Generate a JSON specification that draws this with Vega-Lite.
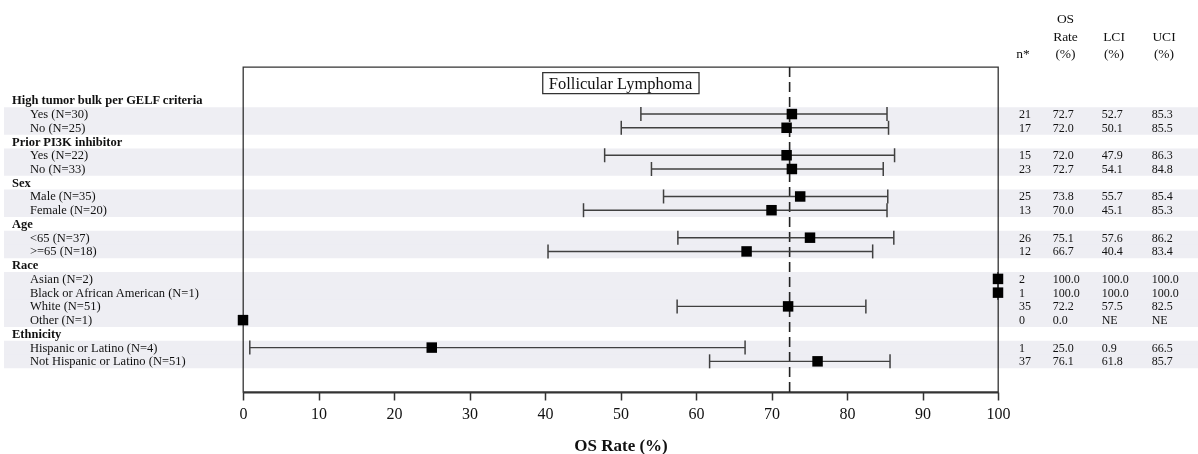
{
  "$schema": "https://vega.github.io/schema/vega-lite/v6.json",
  "background": "white",
  "padding": {"left": 4, "top": 7, "right": 0, "bottom": 0},
  "config": {
    "font": "Liberation Serif",
    "view": {"stroke": null},
    "text": {"color": "#111111", "font": "Liberation Serif"}
  },
  "datasets": {
    "rows": [
      {"label": "Follicular Lymphoma", "level": "title"},
      {"label": "High tumor bulk per GELF criteria", "level": "group"},
      {"label": "Yes (N=30)", "level": "item", "n": 21, "rate": 72.7, "lci": 52.7, "uci": 85.3},
      {"label": "No (N=25)", "level": "item", "n": 17, "rate": 72.0, "lci": 50.1, "uci": 85.5},
      {"label": "Prior PI3K inhibitor", "level": "group"},
      {"label": "Yes (N=22)", "level": "item", "n": 15, "rate": 72.0, "lci": 47.9, "uci": 86.3},
      {"label": "No (N=33)", "level": "item", "n": 23, "rate": 72.7, "lci": 54.1, "uci": 84.8},
      {"label": "Sex", "level": "group"},
      {"label": "Male (N=35)", "level": "item", "n": 25, "rate": 73.8, "lci": 55.7, "uci": 85.4},
      {"label": "Female (N=20)", "level": "item", "n": 13, "rate": 70.0, "lci": 45.1, "uci": 85.3},
      {"label": "Age", "level": "group"},
      {"label": "<65 (N=37)", "level": "item", "n": 26, "rate": 75.1, "lci": 57.6, "uci": 86.2},
      {"label": ">=65 (N=18)", "level": "item", "n": 12, "rate": 66.7, "lci": 40.4, "uci": 83.4},
      {"label": "Race", "level": "group"},
      {"label": "Asian (N=2)", "level": "item", "n": 2, "rate": 100.0, "lci": 100.0, "uci": 100.0},
      {"label": "Black or African American (N=1)", "level": "item", "n": 1, "rate": 100.0, "lci": 100.0, "uci": 100.0},
      {"label": "White (N=51)", "level": "item", "n": 35, "rate": 72.2, "lci": 57.5, "uci": 82.5},
      {"label": "Other (N=1)", "level": "item", "n": 0, "rate": 0.0, "lci": null, "uci": null},
      {"label": "Ethnicity", "level": "group"},
      {"label": "Hispanic or Latino (N=4)", "level": "item", "n": 1, "rate": 25.0, "lci": 0.9, "uci": 66.5},
      {"label": "Not Hispanic or Latino (N=51)", "level": "item", "n": 37, "rate": 76.1, "lci": 61.8, "uci": 85.7}
    ],
    "headers": [
      {"col": "n", "head": "n*"},
      {"col": "rate", "head": ["OS", "Rate", "(%)"]},
      {"col": "lci", "head": ["\u00a0", "LCI", "(%)"]},
      {"col": "uci", "head": ["\u00a0", "UCI", "(%)"]}
    ]
  },
  "vconcat": [
    {
      "hconcat": [
        {"width": 994, "height": 58, "data": {"values": []}, "mark": "text"},
        {
          "width": 50, "height": 58, "data": {"name": "headers"},
          "transform": [{"filter": "datum.col == 'n'"}],
          "mark": {"type": "text", "font": "Liberation Serif", "baseline": "alphabetic", "align": "center", "dy": 22, "fontSize": 13.5},
          "encoding": {"text": {"field": "head"}}
        },
        {
          "width": 35, "height": 58, "data": {"name": "headers"},
          "transform": [{"filter": "datum.col == 'rate'"}],
          "mark": {"type": "text", "font": "Liberation Serif", "lineHeight": 17.5, "baseline": "alphabetic", "align": "center", "dy": -13, "fontSize": 13.5},
          "encoding": {"text": {"field": "head"}}
        },
        {
          "width": 62, "height": 58, "data": {"name": "headers"},
          "transform": [{"filter": "datum.col == 'lci'"}],
          "mark": {"type": "text", "font": "Liberation Serif", "lineHeight": 17.5, "baseline": "alphabetic", "align": "center", "dy": -13, "fontSize": 13.5},
          "encoding": {"text": {"field": "head"}}
        },
        {
          "width": 53, "height": 58, "data": {"name": "headers"},
          "transform": [{"filter": "datum.col == 'uci'"}],
          "mark": {"type": "text", "font": "Liberation Serif", "lineHeight": 17.5, "baseline": "alphabetic", "align": "center", "dy": -13, "dx": -7.5, "fontSize": 13.5},
          "encoding": {"text": {"field": "head"}}
        }
      ],
      "spacing": 0,
      "bounds": "flush"
    },
    {
      "hconcat": [
        {
          "width": 239, "height": 325, "data": {"name": "rows"},
          "layer": [
            {
              "transform": [{"filter": "datum.level == 'item'"}],
              "mark": {"type": "rect", "color": "#eeeef3", "blend": "multiply"},
              "encoding": {"y": {"field": "label", "type": "nominal", "axis": null, "scale": {"type": "band", "paddingInner": 0, "paddingOuter": 0, "range": [12.7, 301.2], "domain": ["Follicular Lymphoma", "High tumor bulk per GELF criteria", "Yes (N=30)", "No (N=25)", "Prior PI3K inhibitor", "Yes (N=22)", "No (N=33)", "Sex", "Male (N=35)", "Female (N=20)", "Age", "<65 (N=37)", ">=65 (N=18)", "Race", "Asian (N=2)", "Black or African American (N=1)", "White (N=51)", "Other (N=1)", "Ethnicity", "Hispanic or Latino (N=4)", "Not Hispanic or Latino (N=51)"]}}}
            },
            {
              "transform": [{"filter": "datum.level == 'group'"}],
              "mark": {"type": "text", "font": "Liberation Serif", "align": "left", "baseline": "middle", "fontSize": 12.5, "fontWeight": "bold"},
              "encoding": {
                "y": {"field": "label", "type": "nominal", "axis": null},
                "x": {"field": "level", "type": "nominal", "axis": null, "scale": {"type": "point", "domain": ["group", "item"], "range": [8, 26], "padding": 0}},
                "text": {"field": "label"}
              }
            },
            {
              "transform": [{"filter": "datum.level == 'item'"}],
              "mark": {"type": "text", "font": "Liberation Serif", "align": "left", "baseline": "middle", "fontSize": 12.5},
              "encoding": {
                "y": {"field": "label", "type": "nominal", "axis": null},
                "x": {"field": "level", "type": "nominal", "axis": null},
                "text": {"field": "label"}
              }
            }
          ]
        },
        {
          "width": 755, "height": 325, "data": {"name": "rows"},
          "view": {"stroke": "#333333", "strokeWidth": 1.3},
          "layer": [
            {
              "transform": [{"filter": "datum.level == 'item'"}],
              "mark": {"type": "rect", "color": "#eeeef3", "blend": "multiply"},
              "encoding": {"y": {"field": "label", "type": "nominal", "axis": null, "scale": {"type": "band", "paddingInner": 0, "paddingOuter": 0, "range": [12.7, 301.2], "domain": ["Follicular Lymphoma", "High tumor bulk per GELF criteria", "Yes (N=30)", "No (N=25)", "Prior PI3K inhibitor", "Yes (N=22)", "No (N=33)", "Sex", "Male (N=35)", "Female (N=20)", "Age", "<65 (N=37)", ">=65 (N=18)", "Race", "Asian (N=2)", "Black or African American (N=1)", "White (N=51)", "Other (N=1)", "Ethnicity", "Hispanic or Latino (N=4)", "Not Hispanic or Latino (N=51)"]}}}
            },
            {
              "data": {"values": [{"overall": 72.4}]},
              "mark": {"type": "rule", "color": "#222222", "strokeWidth": 1.6, "strokeDash": [10, 5]},
              "encoding": {"x": {"field": "overall", "type": "quantitative", "title": "OS Rate (%)", "scale": {"domain": [0, 100], "nice": false}}}
            },
            {
              "transform": [{"filter": "datum.lci != null"}],
              "mark": {"type": "rule", "color": "#404040", "strokeWidth": 1.4},
              "encoding": {
                "x": {"field": "lci", "type": "quantitative", "title": "OS Rate (%)"},
                "x2": {"field": "uci"},
                "y": {"field": "label", "type": "nominal", "axis": null}
              }
            },
            {
              "transform": [{"filter": "datum.lci != null"}],
              "mark": {"type": "tick", "orient": "vertical", "color": "#404040", "size": 14, "thickness": 1.5, "opacity": 1},
              "encoding": {
                "x": {"field": "lci", "type": "quantitative", "title": "OS Rate (%)"},
                "y": {"field": "label", "type": "nominal", "axis": null}
              }
            },
            {
              "transform": [{"filter": "datum.uci != null"}],
              "mark": {"type": "tick", "orient": "vertical", "color": "#404040", "size": 14, "thickness": 1.5, "opacity": 1},
              "encoding": {
                "x": {"field": "uci", "type": "quantitative", "title": "OS Rate (%)"},
                "y": {"field": "label", "type": "nominal", "axis": null}
              }
            },
            {
              "transform": [{"filter": "datum.level == 'item'"}],
              "mark": {"type": "square", "size": 110, "color": "#000000", "opacity": 1},
              "encoding": {
                "x": {
                  "field": "rate", "type": "quantitative", "title": "OS Rate (%)",
                  "scale": {"domain": [0, 100], "nice": false},
                  "axis": {
                    "values": [0, 10, 20, 30, 40, 50, 60, 70, 80, 90, 100],
                    "grid": false, "labelFlush": false,
                    "domainColor": "#333333", "domainWidth": 2,
                    "tickColor": "#333333", "tickWidth": 1.5, "tickSize": 8,
                    "labelFont": "Liberation Serif", "labelFontSize": 16, "labelColor": "#111111", "labelPadding": 5,
                    "titleFont": "Liberation Serif", "titleFontSize": 17, "titleFontWeight": "bold", "titleColor": "#111111", "titlePadding": 16
                  }
                },
                "y": {"field": "label", "type": "nominal", "axis": null}
              }
            },
            {
              "transform": [{"filter": "datum.level == 'title'"}],
              "mark": {"type": "rect", "height": 21, "yOffset": -3.5, "fill": "white", "stroke": "#333333", "strokeWidth": 1.3},
              "encoding": {
                "x": {"datum": 39.7, "type": "quantitative"},
                "x2": {"datum": 60.4},
                "y": {"field": "label", "type": "nominal", "axis": null}
              }
            },
            {
              "transform": [{"filter": "datum.level == 'title'"}],
              "mark": {"type": "text", "font": "Liberation Serif", "align": "center", "baseline": "middle", "fontSize": 16.5, "yOffset": -3},
              "encoding": {
                "x": {"datum": 50, "type": "quantitative"},
                "y": {"field": "label", "type": "nominal", "axis": null},
                "text": {"field": "label"}
              }
            }
          ]
        },
        {
          "width": 50, "height": 325, "data": {"name": "rows"},
          "transform": [{"filter": "datum.level == 'item'"}],
          "layer": [
            {"mark": {"type": "rect", "color": "#eeeef3", "blend": "multiply"}, "encoding": {"y": {"field": "label", "type": "nominal", "axis": null, "scale": {"type": "band", "paddingInner": 0, "paddingOuter": 0, "range": [12.7, 301.2], "domain": ["Follicular Lymphoma", "High tumor bulk per GELF criteria", "Yes (N=30)", "No (N=25)", "Prior PI3K inhibitor", "Yes (N=22)", "No (N=33)", "Sex", "Male (N=35)", "Female (N=20)", "Age", "<65 (N=37)", ">=65 (N=18)", "Race", "Asian (N=2)", "Black or African American (N=1)", "White (N=51)", "Other (N=1)", "Ethnicity", "Hispanic or Latino (N=4)", "Not Hispanic or Latino (N=51)"]}}}},
            {"mark": {"type": "text", "font": "Liberation Serif", "align": "left", "baseline": "middle", "fontSize": 12, "dx": -4}, "encoding": {"y": {"field": "label", "type": "nominal", "axis": null}, "text": {"field": "n", "type": "quantitative", "format": "d"}}}
          ]
        },
        {
          "width": 35, "height": 325, "data": {"name": "rows"},
          "transform": [{"filter": "datum.level == 'item'"}],
          "layer": [
            {"mark": {"type": "rect", "color": "#eeeef3", "blend": "multiply"}, "encoding": {"y": {"field": "label", "type": "nominal", "axis": null, "scale": {"type": "band", "paddingInner": 0, "paddingOuter": 0, "range": [12.7, 301.2], "domain": ["Follicular Lymphoma", "High tumor bulk per GELF criteria", "Yes (N=30)", "No (N=25)", "Prior PI3K inhibitor", "Yes (N=22)", "No (N=33)", "Sex", "Male (N=35)", "Female (N=20)", "Age", "<65 (N=37)", ">=65 (N=18)", "Race", "Asian (N=2)", "Black or African American (N=1)", "White (N=51)", "Other (N=1)", "Ethnicity", "Hispanic or Latino (N=4)", "Not Hispanic or Latino (N=51)"]}}}},
            {"mark": {"type": "text", "font": "Liberation Serif", "align": "left", "baseline": "middle", "fontSize": 12, "dx": -12.8}, "encoding": {"y": {"field": "label", "type": "nominal", "axis": null}, "text": {"field": "rate", "type": "quantitative", "format": ".1f"}}}
          ]
        },
        {
          "width": 62, "height": 325, "data": {"name": "rows"},
          "transform": [{"filter": "datum.level == 'item'"}],
          "layer": [
            {"mark": {"type": "rect", "color": "#eeeef3", "blend": "multiply"}, "encoding": {"y": {"field": "label", "type": "nominal", "axis": null, "scale": {"type": "band", "paddingInner": 0, "paddingOuter": 0, "range": [12.7, 301.2], "domain": ["Follicular Lymphoma", "High tumor bulk per GELF criteria", "Yes (N=30)", "No (N=25)", "Prior PI3K inhibitor", "Yes (N=22)", "No (N=33)", "Sex", "Male (N=35)", "Female (N=20)", "Age", "<65 (N=37)", ">=65 (N=18)", "Race", "Asian (N=2)", "Black or African American (N=1)", "White (N=51)", "Other (N=1)", "Ethnicity", "Hispanic or Latino (N=4)", "Not Hispanic or Latino (N=51)"]}}}},
            {"mark": {"type": "text", "font": "Liberation Serif", "align": "left", "baseline": "middle", "fontSize": 12, "dx": -12.3}, "encoding": {"y": {"field": "label", "type": "nominal", "axis": null}, "text": {"condition": {"test": "datum.lci == null", "value": "NE"}, "field": "lci", "type": "quantitative", "format": ".1f"}}}
          ]
        },
        {
          "width": 53, "height": 325, "data": {"name": "rows"},
          "transform": [{"filter": "datum.level == 'item'"}],
          "layer": [
            {"mark": {"type": "rect", "color": "#eeeef3", "blend": "multiply"}, "encoding": {"y": {"field": "label", "type": "nominal", "axis": null, "scale": {"type": "band", "paddingInner": 0, "paddingOuter": 0, "range": [12.7, 301.2], "domain": ["Follicular Lymphoma", "High tumor bulk per GELF criteria", "Yes (N=30)", "No (N=25)", "Prior PI3K inhibitor", "Yes (N=22)", "No (N=33)", "Sex", "Male (N=35)", "Female (N=20)", "Age", "<65 (N=37)", ">=65 (N=18)", "Race", "Asian (N=2)", "Black or African American (N=1)", "White (N=51)", "Other (N=1)", "Ethnicity", "Hispanic or Latino (N=4)", "Not Hispanic or Latino (N=51)"]}}}},
            {"mark": {"type": "text", "font": "Liberation Serif", "align": "left", "baseline": "middle", "fontSize": 12, "dx": -19.8}, "encoding": {"y": {"field": "label", "type": "nominal", "axis": null}, "text": {"condition": {"test": "datum.uci == null", "value": "NE"}, "field": "uci", "type": "quantitative", "format": ".1f"}}}
          ]
        }
      ],
      "spacing": 0,
      "bounds": "flush"
    }
  ],
  "spacing": 0
}
